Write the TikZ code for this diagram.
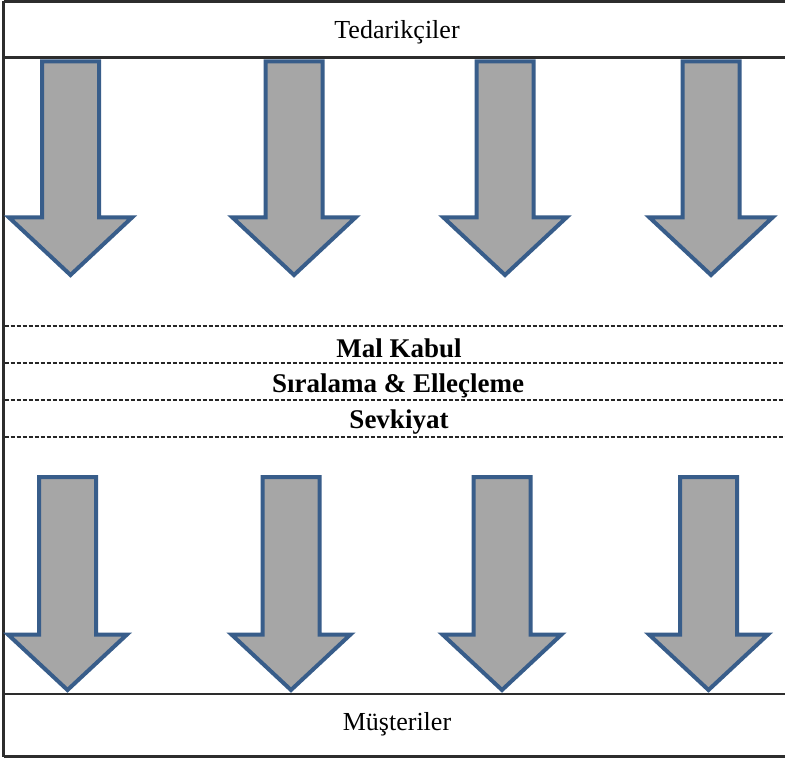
\documentclass[tikz,border=0pt]{standalone}
\usepackage{fontspec}
\setmainfont{Liberation Serif}
\definecolor{arrowline}{RGB}{56,93,138}
\definecolor{arrowfill}{RGB}{166,166,166}
\definecolor{frameline}{RGB}{45,45,45}
% #1 centre x, #2 shaft top, #3 head base, #4 tip, #5 head half width
\newcommand\flowarrow[5]{%
  \draw[bigarrow] ({#1-28.5},#2) -- ({#1+28.5},#2) -- ({#1+28.5},#3) -- ({#1+#5},#3)
    -- (#1,#4) -- ({#1-#5},#3) -- ({#1-28.5},#3) -- cycle;}
\tikzset{
  bigarrow/.style={draw=arrowline, fill=arrowfill, line width=4pt, line join=miter},
  frame/.style={draw=frameline, line width=2.4pt},
  stageline/.style={draw=black!85, line width=1.3pt, dash pattern=on 4pt off 2pt},
  caption/.style={font=\fontsize{26}{30}\selectfont, inner sep=0pt},
  stage/.style={font=\fontsize{27}{31}\selectfont\bfseries, inner sep=0pt}
}
\begin{document}
\begin{tikzpicture}[x=1pt,y=-1pt]
\useasboundingbox (0,0) rectangle (785,759);
\fill[white] (0,0) rectangle (785,759);

% outer frame and the two end bands
\draw[frame] (3.5,1.5) -- (790,1.5);
\draw[frame] (3.5,1.5) -- (3.5,756.5);
\draw[frame] (3.5,756.5) -- (790,756.5);
\draw[frame] (3.5,57.5) -- (790,57.5);
\draw[frame] (3.5,694) -- (790,694);

\node[caption] (supp) at (397,32.5) {Tedarikçiler};
\node[caption] (cust) at (397,724.5) {Müşteriler};

% warehouse stages
\draw[stageline] (4.5,326) -- (790,326);
\draw[stageline] (4.5,363) -- (790,363);
\draw[stageline] (4.5,400) -- (790,400);
\draw[stageline] (4.5,437) -- (790,437);
\node[stage] (recv) at (399,348.5) {Mal Kabul};
\node[stage] (sort) at (398,385.5) {Sıralama \& Elleçleme};
\node[stage] (ship) at (399,422.5) {Sevkiyat};

% inbound flows
\flowarrow{70.5}{61.5}{217.5}{275}{61.5}
\flowarrow{294}{61.5}{217.5}{275}{61.5}
\flowarrow{505}{61.5}{217.5}{275}{61.5}
\flowarrow{711}{61.5}{217.5}{275}{61.5}

% outbound flows
\flowarrow{67.5}{477}{634.5}{690}{59.5}
\flowarrow{291}{477}{634.5}{690}{59.5}
\flowarrow{502}{477}{634.5}{690}{59.5}
\flowarrow{708.5}{477}{634.5}{690}{59.5}
\end{tikzpicture}
\end{document}
